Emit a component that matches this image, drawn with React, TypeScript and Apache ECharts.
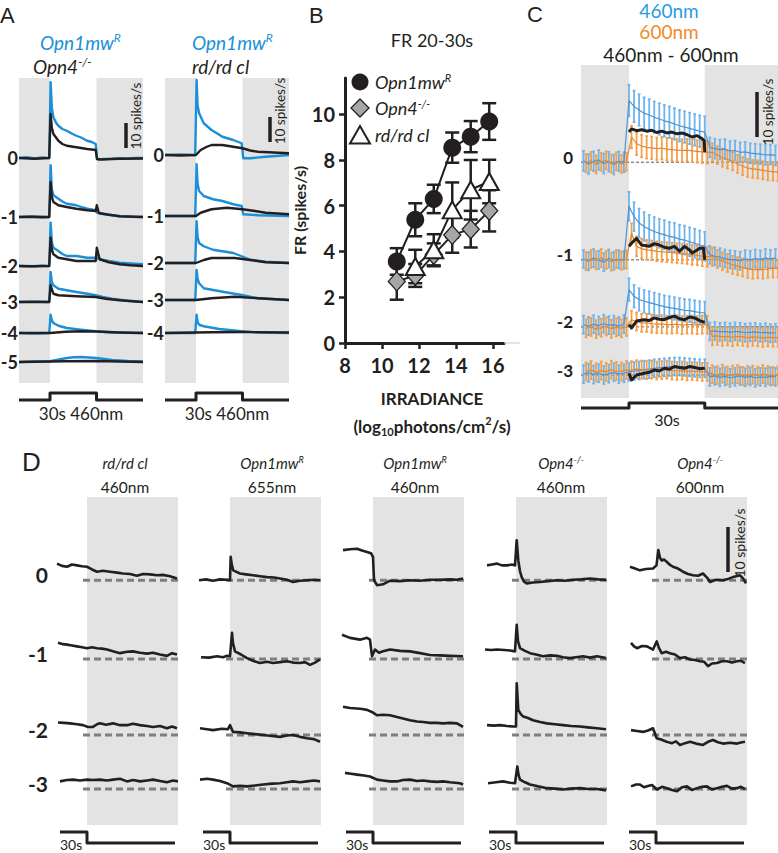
import React, { useEffect, useRef } from "react";
import * as echarts from "echarts";

const FONT = "Lato, 'Open Sans', 'DejaVu Sans', sans-serif";
const LETTER_FONT = "'Liberation Sans', Arial, sans-serif";
const BLUE = "#1b8fd8";
const ORANGE = "#f08a2c";
const BLUE_BAR = "#6fb4ec";
const ORANGE_BAR = "#f5a047";
const BLACK = "#231f20";
const GREY_BG = "#e3e3e3";

// ---------------- Panel A (time s, response spikes/s) ----------------
const A_ROWS_LEFT = ["0", "-1", "-2", "-3", "-4", "-5"];
const A_ROWS_MID = ["0", "-1", "-2", "-3", "-4"];
const A_DARK = [[-20, 0], [30, 60]];
const A_STIM = [[-20, 0], [0, 0], [0, 1], [30, 1], [30, 0], [60, 0]];

const A_LEFT_BLUE = [
  [[-20, 0], [-15, 0.3], [-10, -0.2], [-5, 0.2], [-0.5, 0], [0.4, 30.3], [1.2, 20], [2.2, 16.3], [4, 14], [5.4, 12.9], [8, 11.6], [10.8, 10.9], [14, 9.8], [17, 8.9], [20, 8.2], [24, 6.9], [27, 6.4], [29.5, 5.6], [30.3, 0.2], [31, -0.6], [35, -0.4], [40, -0.3], [45, -0.1], [50, -0.3], [55, 0], [60, 0]],
  [[-20, 0], [-12, 0.2], [-5, -0.2], [-0.5, 0], [0.4, 20.7], [1.2, 11], [2.2, 8.7], [5.4, 7.3], [8, 6.2], [10.8, 5.3], [14, 5.0], [17, 4.7], [20, 4.0], [24, 3.3], [29.5, 2.7], [30.2, 1.8], [33, 1.3], [38, 0.9], [45, 0.3], [52, 0.1], [60, 0]],
  [[-20, 0], [-12, -0.2], [-5, 0.2], [-0.5, 0], [0.4, 17.3], [1.2, 9.5], [2.2, 7.3], [5.4, 6], [8, 4.8], [10.8, 4], [17, 4], [20, 3.7], [24, 3.3], [29.5, 3.3], [32, 2.7], [38, 2.0], [45, 1.3], [52, 1.0], [60, 0.7]],
  [[-20, 0], [-10, 0.2], [-0.5, 0], [0.4, 12], [1.2, 8], [2.2, 6.7], [5.4, 5.3], [10.8, 4.7], [17, 4], [24, 3.3], [29.5, 2.7], [34, 2.0], [40, 1.3], [50, 0.5], [60, 0]],
  [[-20, 0], [-10, -0.2], [-0.5, 0], [0.4, 7.3], [1.2, 5], [2.2, 4], [5.4, 2.9], [10.8, 2], [20, 1.3], [29.5, 0.7], [40, 0.2], [60, 0]],
  [[-20, 0], [-10, 0.2], [0, 0.3], [5, 0.9], [10, 1.5], [15, 1.9], [20, 2.0], [25, 1.8], [30, 1.6], [35, 1.2], [40, 0.8], [50, 0.4], [60, 0.2]],
];
const A_LEFT_BLACK = [
  [[-20, 0], [-10, -0.3], [-0.5, 0], [0.4, 17.6], [1.2, 12], [2.2, 9.6], [5.4, 6.9], [8, 5.6], [10.8, 4.9], [17, 4.3], [24, 3.6], [29.5, 3.2], [30.3, -0.4], [33, -0.6], [40, -0.4], [45, -0.3], [60, -0.2]],
  [[-20, 0], [-10, 0.1], [-0.5, 0], [0.4, 14], [1.2, 8], [2.2, 6], [5.4, 4.7], [10.8, 4], [17, 3.3], [24, 2.7], [29.5, 2.4], [30.2, 4.7], [31.5, 1.6], [38, 0.9], [45, 0.3], [60, 0]],
  [[-20, 0], [-10, -0.1], [-0.5, 0], [0.4, 11.3], [1.2, 6.5], [2.2, 4.7], [5.4, 3.3], [10.8, 2.7], [17, 2], [29.5, 2], [30.2, 7.3], [32, 2.7], [38, 1.5], [45, 0.7], [52, 0.3], [60, 0]],
  [[-20, 0], [-0.5, 0], [0.4, 6.7], [2.2, 3.3], [5.4, 2.7], [17, 2.3], [29.5, 2], [36, 1.3], [45, 0.7], [60, 0]],
  [[-20, 0], [0, 0], [10, 0.5], [20, 0.7], [30, 0.6], [45, 0.2], [60, 0]],
  [[-20, 0], [10, 0.3], [30, 0.4], [45, 0.2], [60, 0]],
];
const A_MID_BLUE = [
  [[-20, 0], [-10, 0.2], [-0.5, 0], [0.4, 30], [1, 20], [2, 16.7], [5, 12.7], [10, 10], [14, 8.5], [17, 7.3], [24, 6], [29.5, 4.7], [30.5, -1.3], [35, -1.3], [45, -0.7], [60, 0]],
  [[-20, 0], [-0.5, 0], [0.4, 20.7], [1, 13], [2, 10], [5, 8], [11, 6.7], [17, 6], [24, 4.7], [29.5, 4], [30.5, 0.7], [40, 0.3], [60, 0]],
  [[-20, 0], [-0.5, 0], [0.4, 16.7], [1, 10.5], [2, 8], [5, 6.7], [11, 5.3], [17, 4.7], [24, 4], [29.5, 2.7], [35, 1.3], [45, 0.5], [60, 0]],
  [[-20, 0], [-0.5, 0], [0.4, 12], [1, 8.5], [2, 6.7], [5, 4.7], [11, 4], [20, 3], [29.5, 2], [40, 0.7], [60, 0]],
  [[-20, 0], [-0.5, 0], [0.4, 7.3], [1, 4.5], [2, 3.3], [5, 2.7], [15, 1.6], [29.5, 0.7], [40, 0.2], [60, 0]],
];
const A_MID_BLACK = [
  [[-20, 0], [-10, -0.2], [0, 0], [3, 2], [7, 3.3], [10, 4], [17, 4], [24, 3.3], [30, 2.7], [35, 1.8], [40, 1.3], [50, 1.0], [60, 0.7]],
  [[-20, 0], [0, 0], [3, 1.3], [10, 2.7], [20, 3.3], [30, 2.7], [38, 2.0], [45, 1.3], [60, 0.7]],
  [[-20, 0], [0, 0], [5, 1.2], [10, 2], [25, 2], [35, 1.2], [45, 0.3], [60, 0]],
  [[-20, 0], [0, 0], [10, 0.7], [25, 1.3], [40, 0.7], [60, 0]],
  [[-20, 0], [10, 0.3], [30, 0.4], [60, 0.2]],
];

// ---------------- Panel B ----------------
const B_X = [10.8, 11.8, 12.8, 13.8, 14.8, 15.8];
const B_OPN1 = [3.56, 5.38, 6.29, 8.53, 9.01, 9.67];
const B_OPN1_ERR = [0.58, 0.72, 0.62, 0.66, 0.68, 0.8];
const B_OPN4 = [2.69, 2.95, 3.85, 4.72, 4.97, 5.77];
const B_OPN4_ERR = [0.8, 0.5, 0.5, 0.78, 0.8, 0.9];
const B_RD_X = [11.8, 12.8, 13.8, 14.8, 15.8];
const B_RD = [3.34, 4.07, 5.81, 6.69, 7.05];
const B_RD_ERR = [0.73, 0.68, 1.2, 1.3, 0.95];
const B_XTICKS = [8, 16.6];
const B_YTICKS = [0, 11.57];

// ---------------- Panel C ----------------
const C_ROWS = ["0", "-1", "-2", "-3"];
const C_DARK = [[-19, 0], [30, 59]];
const C_STIM = [[-19, 0], [0, 0], [0, 1], [30, 1], [30, 0], [59, 0]];
const C_T = [-18, -16, -14, -12, -10, -8, -6, -4, -2, 0, 2, 4, 6, 8, 10, 12, 14, 16, 18, 20, 22, 24, 26, 28, 30, 32, 34, 36, 38, 40, 42, 44, 46, 48, 50, 52, 54, 56, 58];
const C_BLUE = [
  [0.3, -0.4, 0.2, 0.5, -0.3, 0.1, -0.5, 0.2, 0.0, 13.7, 12.4, 11.6, 10.9, 10.5, 10.0, 9.6, 9.2, 8.9, 8.5, 8.1, 7.8, 7.5, 7.2, 6.9, 6.7, 3.3, 3.0, 2.8, 2.9, 2.5, 2.6, 2.2, 2.3, 2.0, 1.9, 1.8, 1.6, 1.7, 1.5],
  [0.2, -0.3, 0.4, 0.0, -0.5, 0.3, -0.2, 0.1, 0.0, 11.9, 9.6, 8.2, 7.4, 6.8, 6.3, 5.9, 5.6, 5.2, 5.0, 4.6, 4.4, 4.0, 3.7, 3.3, 3.0, 1.1, 0.8, 0.6, 0.3, 0.1, 0.0, -0.2, 0.2, 0.0, 0.3, 0.1, 0.4, 0.2, 0.4],
  [0.5, 0.2, 0.6, 0.3, 0.7, 0.4, 0.5, 0.2, 0.6, 8.3, 6.8, 6.1, 5.7, 5.4, 5.1, 4.8, 4.5, 4.3, 4.1, 3.9, 3.7, 3.6, 3.4, 3.2, 3.1, -1.0, -0.9, -1.1, -1.0, -1.2, -1.0, -1.1, -1.3, -1.2, -1.1, -1.3, -1.2, -1.4, -1.3],
  [0.2, 0.5, 0.1, 0.4, 0.0, 0.3, 0.6, 0.2, 0.4, 0.7, 0.9, 1.0, 1.2, 1.3, 1.5, 1.6, 1.7, 1.8, 1.9, 1.9, 1.8, 1.7, 1.6, 1.5, 1.5, -0.4, -0.2, -0.5, -0.3, -0.6, -0.4, -0.2, -0.5, -0.3, -0.6, -0.4, -0.5, -0.3, -0.4],
];
const C_ORANGE = [
  [-0.2, 0.3, -0.5, 0.1, 0.4, -0.3, 0.2, -0.4, 0.1, 5.6, 4.1, 3.6, 3.3, 3.2, 3.0, 3.1, 2.9, 2.8, 2.7, 2.6, 2.7, 2.5, 2.4, 2.3, 2.2, 2.2, 1.6, 1.0, 0.6, 0.2, -0.4, -0.9, -1.3, -1.5, -1.6, -1.8, -2.0, -2.1, -2.2],
  [-0.3, 0.2, -0.1, 0.4, 0.0, -0.4, 0.2, -0.2, 0.1, 5.9, 3.0, 2.5, 2.2, 2.1, 1.9, 1.8, 1.7, 1.6, 1.5, 1.4, 1.3, 1.1, 1.0, 0.8, 0.7, 0.7, 0.2, -0.3, -0.7, -1.1, -1.4, -1.7, -2.0, -2.2, -2.1, -2.2, -2.0, -1.9, -1.9],
  [-0.3, 0.0, -0.5, -0.2, 0.1, -0.4, -0.1, -0.3, 0.0, 1.6, 1.2, 0.9, 0.9, 0.7, 0.6, 0.6, 0.5, 0.5, 0.6, 0.4, 0.5, 0.5, 0.4, 0.5, 0.5, -2.1, -2.0, -2.2, -2.1, -2.3, -2.1, -2.2, -2.4, -2.2, -2.3, -2.5, -2.3, -2.4, -2.4],
  [0.8, 1.1, 0.6, 1.0, 0.7, 1.2, 0.9, 0.8, 1.1, 1.1, 1.3, 1.2, 1.1, 1.2, 1.0, 1.1, 1.2, 1.0, 0.9, 1.0, 0.8, 0.9, 0.8, 0.7, 0.7, 0.2, 0.0, 0.3, -0.1, 0.1, 0.2, -0.2, 0.0, 0.1, -0.1, 0.2, 0.0, -0.2, 0.0],
];
// SEM per phase: [before, during, after light]
const C_BLUE_ERR = [[2.2, 3.5, 2.2], [2.0, 3.2, 2.0], [2.0, 2.5, 2.0], [2.0, 2.0, 2.0]];
const C_ORANGE_ERR = [[2.0, 2.5, 2.0], [2.0, 2.2, 2.0], [2.0, 2.0, 2.0], [2.0, 2.0, 2.0]];
const C_DIFF = [
  [[0, 6.7], [1, 7.4], [3, 7.0], [5, 7.2], [7, 6.9], [9, 7.1], [11, 6.6], [13, 6.9], [15, 6.5], [17, 6.7], [19, 6.3], [21, 6.5], [23, 6.1], [25, 5.6], [27, 5.9], [29, 5.2], [29.8, 4.8], [30, 2.2]],
  [[0, 3.0], [1, 3.7], [3, 4.8], [4, 4.0], [5, 3.3], [8, 3.0], [10, 3.6], [12, 3.3], [14, 2.8], [16, 2.6], [18, 3.0], [20, 1.9], [22, 3.0], [24, 2.2], [25, 1.5], [27, 2.2], [28, 2.6], [29.5, 2.6], [30, 0]],
  [[0, 0.5], [1, -0.2], [3, 1.3], [6, 1.6], [8, 1.4], [10, 2.0], [12, 1.7], [14, 1.6], [16, 2.1], [18, 2.4], [20, 1.8], [22, 1.6], [24, 2.2], [26, 2.0], [28, 1.4], [30, 1.0]],
  [[0, 0.4], [1, -1.1], [3, 0.0], [6, 0.4], [8, 0.6], [10, 1.1], [12, 0.9], [14, 1.5], [16, 1.3], [18, 1.9], [20, 1.7], [22, 1.5], [24, 1.9], [26, 1.7], [28, 1.4], [30, 1.5]],
];

// ---------------- Panel D ----------------
const D_ROWS = ["0", "-1", "-2", "-3"];
const D_TITLES = [["rd/rd cl", ""], ["Opn1mw", "R"], ["Opn1mw", "R"], ["Opn4", "-/-"], ["Opn4", "-/-"]];
const D_WAVE = ["460nm", "655nm", "460nm", "460nm", "600nm"];
const D_DARK = [[0, 91]];
const D_STIM = [[-27, 1], [0, 1], [0, 0], [88, 0]];
const D_RDCL_460 = [
  [[-30, 3.7], [-25, 3.2], [-20, 3.0], [-15, 3.5], [-10, 3.3], [-5, 3.1], [0, 3.0], [5, 2.4], [10, 1.9], [16, 2.1], [23, 1.9], [30, 1.7], [36, 1.5], [43, 1.4], [50, 1.0], [56, 1.4], [63, 1.3], [70, 1.1], [76, 1.2], [83, 0.9], [90, 0.4]],
  [[-29, 3.6], [-24, 3.3], [-20, 3.2], [-15, 3.0], [-10, 2.8], [-5, 2.6], [0, 2.4], [5, 2.6], [10, 2.4], [15, 2.3], [20, 2.1], [26, 1.7], [33, 1.3], [40, 1.6], [46, 1.7], [53, 1.4], [60, 1.2], [66, 1.4], [73, 1.0], [80, 0.7], [85, 1.3], [90, 1.0]],
  [[-29, 2.8], [-23, 2.7], [-17, 2.6], [-10, 2.4], [-4, 2.2], [1, 1.8], [6, 1.8], [10, 2.4], [13, 2.6], [19, 2.3], [26, 2.6], [33, 2.2], [40, 2.2], [46, 2.5], [53, 2.2], [60, 2.0], [66, 1.8], [73, 2.0], [80, 1.5], [85, 1.9], [90, 1.5]],
  [[-27, 1.7], [-20, 2.0], [-14, 2.1], [-7, 1.9], [0, 2.1], [6, 2.0], [13, 2.1], [20, 1.9], [26, 2.1], [33, 2.3], [40, 1.7], [46, 2.0], [53, 1.7], [60, 1.9], [66, 2.1], [73, 1.8], [80, 1.5], [86, 1.9], [91, 1.7]],
];
const D_OPN1_655 = [
  [[-31, 0], [-24, 0.2], [-17, -0.1], [-10, 0.2], [-3, 0.1], [0, 0], [0.7, 5.2], [1.8, 3.4], [3.3, 2.2], [10, 1.5], [16, 1.3], [23, 1.1], [30, 0.9], [37, 0.7], [44, 0.6], [50, 0.4], [57, 0.1], [63, -0.4], [70, -0.1], [77, 0], [84, 0.1], [90, 0]],
  [[-29, 0.4], [-21, 0.3], [-13, 0.6], [-7, 0.4], [-3, 0.7], [0, 0.6], [2, 5.8], [3, 3.5], [5, 1.7], [11, 1.0], [17, 0.2], [23, -0.4], [30, -0.9], [37, -0.6], [43, -0.9], [50, -0.7], [57, -0.5], [63, -0.8], [70, -0.9], [75, -0.7], [80, -1.3], [85, -0.8], [90, -0.1]],
  [[-30, 1.5], [-23, 1.3], [-17, 1.1], [-8, 1.4], [-2, 1.3], [0, 2.2], [3, 0.7], [10, 0.6], [17, 0.4], [25, 0.2], [33, 0], [42, -0.2], [50, -0.4], [57, -0.1], [63, 0], [70, -0.4], [77, -0.7], [84, -0.9], [90, -1.5]],
  [[-30, 2.1], [-23, 2.3], [-17, 2.1], [-10, 1.8], [-3, 1.3], [3, 0.6], [10, 0.7], [17, 0.6], [25, 0.8], [33, 1.0], [42, 1.2], [50, 1.3], [57, 1.5], [63, 1.7], [70, 1.5], [77, 1.7], [84, 1.9], [90, 1.7]],
];
const D_OPN1_460 = [
  [[-30, 6.7], [-23, 6.9], [-16, 7.0], [-11, 6.6], [-6, 6.3], [-2, 6.0], [0, 5.2], [1, 0], [4, -1.1], [10, -0.9], [17, -0.1], [27, -0.2], [37, 0], [47, -0.1], [57, 0.1], [67, 0.1], [77, 0.2], [84, 0.1], [90, 0.4]],
  [[-31, 5.4], [-23, 4.7], [-13, 4.3], [-6, 4.7], [-3, 4.3], [-1, 0.6], [2, 2.1], [6, 1.4], [10, 1.7], [17, 2.1], [27, 1.8], [37, 1.7], [47, 1.3], [57, 0.9], [67, 0.8], [77, 0.7], [90, 0.6]],
  [[-30, 6.3], [-23, 6.0], [-16, 5.9], [-11, 5.8], [-6, 5.6], [0, 5.0], [4, 4.4], [10, 4.5], [17, 4.4], [24, 4.0], [30, 3.7], [37, 3.3], [44, 3.0], [50, 2.9], [57, 2.7], [64, 2.7], [70, 2.6], [77, 2.7], [84, 2.6], [90, 1.8]],
  [[-28, 3.6], [-22, 3.4], [-16, 3.2], [-9, 3.0], [-3, 2.8], [4, 2.1], [10, 1.9], [17, 1.7], [24, 1.7], [30, 2.0], [37, 2.1], [44, 1.8], [50, 1.9], [57, 1.7], [64, 1.6], [70, 1.7], [77, 1.5], [87, 1.3], [90, 1.0]],
];
const D_OPN4_460 = [
  [[-29, 3.3], [-24, 3.5], [-19, 3.7], [-14, 3.3], [-9, 3.3], [-4, 3.5], [-1, 3.3], [0.7, 8.9], [2.3, 4.4], [4, 2.0], [5.7, 0.7], [8, -0.3], [10.7, -0.7], [17, -0.5], [24, -0.4], [32, -0.2], [41, 0], [49, -0.1], [57, 0.1], [65, 0.2], [74, 0.4], [82, 0.2], [90, 0.1]],
  [[-31, 2.1], [-25, 2.0], [-19, 2.1], [-12, 2.0], [-6, 1.9], [-1, 1.7], [0.7, 7.6], [2, 4.0], [4, 2.4], [9, 1.8], [14, 1.3], [20, 1.0], [27, 0.6], [34, 0.8], [41, 0.7], [47, 0.4], [54, 0.2], [60, 0.4], [67, 0.6], [74, 0.3], [81, 0.6], [90, 0.2]],
  [[-29, 2.2], [-22, 2.1], [-16, 2.2], [-9, 2.0], [-3, 1.9], [0, 1.9], [0.7, 11.5], [2.3, 5.6], [5, 4.6], [7.3, 4.1], [12, 3.8], [17, 3.3], [24, 2.9], [31, 2.6], [39, 2.4], [47, 2.2], [55, 2.0], [64, 1.9], [72, 1.7], [81, 1.5], [90, 1.3]],
  [[-28, 1.3], [-20, 1.5], [-13, 1.7], [-6, 1.4], [-1, 1.3], [1.3, 5.0], [2.5, 3.2], [4, 2.1], [9, 1.5], [14, 1.0], [22, 0.6], [31, 0.2], [39, 0.1], [47, -0.1], [55, 0.1], [64, 0.2], [72, 0], [81, 0], [90, -0.3]],
];
const D_OPN4_600 = [
  [[-26, 3.0], [-21, 2.6], [-16, 2.2], [-10, 2.5], [-3, 2.6], [0.5, 3.3], [2.3, 6.7], [4, 5.0], [5.7, 4.4], [8, 4.6], [10.7, 4.1], [14, 3.4], [17, 3.0], [22, 2.6], [27, 1.9], [32, 1.4], [37, 1.1], [42, 1.0], [47, 1.5], [51, 0.6], [54, -0.4], [60, 0.1], [67, 0], [72, 0.3], [77, 0.7], [84, 1.1], [87, 0.4], [90, -0.7]],
  [[-25, 3.6], [-22, 2.8], [-19, 2.4], [-14, 2.9], [-9, 2.8], [-3, 2.1], [0.7, 3.9], [3, 2.4], [5.7, 1.3], [10, 1.6], [14, 1.3], [19, 1.0], [24, 0.2], [29, 0.4], [34, -0.1], [39, -0.2], [44, -0.5], [48, -0.6], [52, -1.6], [56, -1.0], [61, -0.9], [66, -0.5], [71, -0.5], [76, -0.8], [81, -0.5], [85, -0.4], [89, -0.9]],
  [[-25, 1.1], [-19, 0.9], [-13, 0.7], [-8, 1.0], [-3, 1.5], [0.7, -0.7], [5, -1.0], [10.7, -1.5], [16, -1.8], [20, -1.4], [24, -2.2], [29, -1.8], [34, -1.5], [40, -1.9], [47, -2.2], [52, -1.5], [57, -1.1], [62, -1.6], [67, -1.9], [74, -1.7], [81, -1.9], [86, -1.6], [89, -1.5]],
  [[-25, 0.6], [-20, 1.0], [-16, 1.0], [-12, 0.4], [-9, 0.6], [-4, 0.9], [1, -0.1], [6, 0.5], [11, 0.2], [16, -0.2], [21, -0.5], [26, 0.4], [31, 0.6], [36, -0.2], [41, 0.2], [46, 0.5], [51, 0.6], [56, -0.1], [61, 0.2], [66, 0.5], [71, 0.7], [76, 0.1], [81, 0.2], [85, 0.5], [89, 0]],
];
const D_TRACES = [D_RDCL_460, D_OPN1_655, D_OPN1_460, D_OPN4_460, D_OPN4_600];

// ---------------- layout (pixels / axis ranges) ----------------
const A_LAYOUT = { left: [19, 165], top: 78, width: 124, height: 325, xMin: -20, xMax: 60, yMin: -8, yMax: 122 };
const A_BASE_LEFT = [90, 66.4, 46.8, 32.4, 20, 8.4];
const A_BASE_MID = [91.2, 66.8, 48, 33.2, 20];
const A_STIM_Y = [-6.8, -4];
const C_LAYOUT = { left: 581, top: 65, width: 197, height: 346.5, xMin: -19, xMax: 59, yMin: -3, yMax: 74 };
const C_BASE = [52.4, 30.7, 15.8, 5.1];
const C_STIM_Y = [-2.2, -1.1];
const D_LAYOUT = { left: [57, 200, 343, 486, 626], top: 497, width: 121, height: 348.3, xMin: -30, xMax: 91, yMin: -4.5, yMax: 72.9 };
const D_BASE = [54.4, 36.9, 20, 8];
const D_STIM_Y = [-4.0, -1.56];

function line(gi: number, data: number[][], base: number, color: string, width: number, z: number, extra: any = {}) {
  return {
    type: "line", xAxisIndex: gi, yAxisIndex: gi, silent: true, z,
    data: data.map(([t, v]) => [t, v + base]),
    showSymbol: false, symbol: "none",
    lineStyle: { color, width, join: "round", ...(extra.lineStyle || {}) },
    itemStyle: { color },
    animation: false,
  };
}

function bands(gi: number, ranges: number[][], y0: number, y1: number) {
  return {
    type: "custom", xAxisIndex: gi, yAxisIndex: gi, silent: true, z: 0,
    data: ranges.map(([a, b]) => [a, b, y0, y1]),
    encode: { x: [0, 1], y: [2, 3] },
    renderItem: (_p: any, api: any) => {
      const p0 = api.coord([api.value(0), api.value(3)]);
      const p1 = api.coord([api.value(1), api.value(2)]);
      return { type: "rect", shape: { x: p0[0], y: p0[1], width: p1[0] - p0[0], height: p1[1] - p0[1] }, style: { fill: GREY_BG } };
    },
  };
}

function errBars(gi: number, data: number[][], color: string, width: number, cap: number, z: number) {
  return {
    type: "custom", xAxisIndex: gi, yAxisIndex: gi, silent: true, z,
    data, encode: { x: 0, y: [1, 2] },
    renderItem: (_p: any, api: any) => {
      const a = api.coord([api.value(0), api.value(1)]);
      const b = api.coord([api.value(0), api.value(2)]);
      const st = { stroke: color, lineWidth: width };
      return {
        type: "group",
        children: [
          { type: "line", shape: { x1: a[0], y1: a[1], x2: b[0], y2: b[1] }, style: st },
          { type: "line", shape: { x1: a[0] - cap, y1: a[1], x2: a[0] + cap, y2: a[1] }, style: st },
          { type: "line", shape: { x1: b[0] - cap, y1: b[1], x2: b[0] + cap, y2: b[1] }, style: st },
        ],
      };
    },
  };
}

// row labels, drawn as text glyphs anchored at each row's baseline
function rowLabels(gi: number, names: string[], bases: number[], x: number, dist: number, dy: number, size: number) {
  return {
    type: "custom", xAxisIndex: gi, yAxisIndex: gi, silent: true, z: 6,
    data: names.map((_n, k) => [x, bases[k], k]),
    encode: { x: 0, y: 1 },
    renderItem: (_p: any, api: any) => {
      const p = api.coord([api.value(0), api.value(1)]);
      const k = api.value(2);
      return {
        type: "text", x: p[0] - dist, y: p[1] + dy,
        style: { text: names[k], fill: BLACK, fontFamily: FONT, fontWeight: "bold", fontSize: size, textAlign: "right", textVerticalAlign: "middle", align: "right", verticalAlign: "middle" },
      };
    },
  };
}

function stim(gi: number, data: number[][], ys: number[], width: number) {
  return line(gi, data.map(([t, on]) => [t, ys[on]]), 0, BLACK, width, 2);
}

function richSup(main: string, sup: string, size: number, color: string, italic: boolean, weight = "normal") {
  const fs = italic ? "italic" : "normal";
  return {
    text: sup ? `{a|${main}}{s|${sup}}` : `{a|${main}}`,
    rich: {
      a: { fontSize: size, fontFamily: FONT, fontStyle: fs, fontWeight: weight, fill: color, lineHeight: Math.round(size * 1.1) },
      s: { fontSize: Math.round(size * 0.62), fontFamily: FONT, fontStyle: fs, fontWeight: weight, fill: color, lineHeight: Math.round(size * 0.6), verticalAlign: "top" },
    },
  };
}

function txt(x: number, y: number, text: string, size: number, opts: any = {}) {
  return {
    type: "text", x, y, silent: true, rotation: opts.rotation || 0, z: 10,
    style: {
      text, fill: opts.color || BLACK, fontFamily: opts.font || FONT, fontSize: size,
      fontStyle: opts.italic ? "italic" : "normal", fontWeight: opts.bold ? "bold" : "normal",
      textAlign: opts.align || "left", textVerticalAlign: "middle", align: opts.align || "left", verticalAlign: "middle",
    },
  };
}
function rtxt(x: number, y: number, r: any, align = "left") {
  return { type: "text", x, y, silent: true, z: 10, style: { ...r, textAlign: align, textVerticalAlign: "middle", align, verticalAlign: "middle" } };
}
function vbar(x: number, y1: number, y2: number) {
  return { type: "line", silent: true, z: 10, shape: { x1: x, y1, x2: x, y2 }, style: { stroke: BLACK, lineWidth: 3.5 } };
}

function buildOption() {
  const grid: any[] = [];
  const xAxis: any[] = [];
  const yAxis: any[] = [];
  const series: any[] = [];
  const hidden = { show: false };
  const addGrid = (left: number, top: number, width: number, height: number, xr: number[], yr: number[]) => {
    const gi = grid.length;
    grid.push({ left, top, width, height, containLabel: false });
    xAxis.push({ gridIndex: gi, type: "value", min: xr[0], max: xr[1], ...hidden, splitLine: hidden });
    yAxis.push({ gridIndex: gi, type: "value", min: yr[0], max: yr[1], ...hidden, splitLine: hidden });
    return gi;
  };

  // Panel A
  const aSets = [
    { blue: A_LEFT_BLUE, black: A_LEFT_BLACK, base: A_BASE_LEFT, rows: A_ROWS_LEFT },
    { blue: A_MID_BLUE, black: A_MID_BLACK, base: A_BASE_MID, rows: A_ROWS_MID },
  ];
  aSets.forEach((s, k) => {
    const gi = addGrid(A_LAYOUT.left[k], A_LAYOUT.top, A_LAYOUT.width, A_LAYOUT.height, [A_LAYOUT.xMin, A_LAYOUT.xMax], [A_LAYOUT.yMin, A_LAYOUT.yMax]);
    series.push(bands(gi, A_DARK, 0, A_LAYOUT.yMax));
    s.blue.forEach((d, r) => series.push(line(gi, d, s.base[r], BLUE, 2.4, 3)));
    s.black.forEach((d, r) => series.push(line(gi, d, s.base[r], BLACK, 2.4, 4)));
    series.push(stim(gi, A_STIM, A_STIM_Y, 3));
    series.push(rowLabels(gi, s.rows, s.base, A_LAYOUT.xMin, 1, 0, 18));
  });

  // Panel B
  const gb = grid.length;
  grid.push({ left: 345, top: 78, width: 159, height: 265, containLabel: false });
  const axisLine = { show: true, lineStyle: { color: BLACK, width: 3 } };
  const tickStyle = { show: true, inside: false, length: 6, lineStyle: { color: BLACK, width: 2.5 } };
  const labelStyle = { fontFamily: FONT, fontWeight: "bold", fontSize: 20, color: BLACK };
  xAxis.push({
    gridIndex: gb, type: "value", min: B_XTICKS[0], max: B_XTICKS[1], interval: 2,
    axisLine, axisTick: tickStyle, splitLine: hidden,
    axisLabel: { ...labelStyle, margin: 12, showMaxLabel: false },
  });
  yAxis.push({
    gridIndex: gb, type: "value", min: B_YTICKS[0], max: B_YTICKS[1], interval: 2,
    axisLine, axisTick: tickStyle, splitLine: hidden,
    axisLabel: { ...labelStyle, margin: 10, showMaxLabel: false },
    name: "FR (spikes/s)", nameLocation: "middle", nameGap: 33,
    nameTextStyle: { fontFamily: FONT, fontWeight: "bold", fontSize: 16, color: BLACK },
  });
  series.push(errBars(gb, B_X.map((x, i) => [x, B_OPN4[i] - B_OPN4_ERR[i], B_OPN4[i] + B_OPN4_ERR[i]]), BLACK, 2.5, 7, 2));
  series.push(errBars(gb, B_RD_X.map((x, i) => [x, B_RD[i] - B_RD_ERR[i], B_RD[i] + B_RD_ERR[i]]), BLACK, 2.5, 7, 2));
  series.push(errBars(gb, B_X.map((x, i) => [x, B_OPN1[i] - B_OPN1_ERR[i], B_OPN1[i] + B_OPN1_ERR[i]]), BLACK, 2.5, 7, 2));
  series.push({
    type: "line", xAxisIndex: gb, yAxisIndex: gb, z: 4, silent: true, data: B_X.map((x, i) => [x, B_OPN4[i]]),
    symbol: "diamond", symbolSize: [17, 19], showSymbol: true,
    lineStyle: { color: BLACK, width: 2 }, itemStyle: { color: "#a6a6a6", borderColor: BLACK, borderWidth: 1.3 },
  });
  series.push({
    type: "line", xAxisIndex: gb, yAxisIndex: gb, z: 5, silent: true, data: B_RD_X.map((x, i) => [x, B_RD[i]]),
    symbol: "triangle", symbolSize: [19, 17], showSymbol: true,
    lineStyle: { color: BLACK, width: 2 }, itemStyle: { color: "#ffffff", borderColor: BLACK, borderWidth: 2 },
  });
  series.push({
    type: "line", xAxisIndex: gb, yAxisIndex: gb, z: 6, silent: true, data: B_X.map((x, i) => [x, B_OPN1[i]]),
    symbol: "circle", symbolSize: 18, showSymbol: true,
    lineStyle: { color: BLACK, width: 2 }, itemStyle: { color: BLACK, borderColor: BLACK, borderWidth: 0 },
  });

  // Panel C
  const gc = addGrid(C_LAYOUT.left, C_LAYOUT.top, C_LAYOUT.width, C_LAYOUT.height, [C_LAYOUT.xMin, C_LAYOUT.xMax], [C_LAYOUT.yMin, C_LAYOUT.yMax]);
  series.push(bands(gc, C_DARK, 0, C_LAYOUT.yMax));
  const phase = (t: number) => (t < 0 ? 0 : t <= 30 ? 1 : 2);
  C_ROWS.forEach((_r, r) => {
    const base = C_BASE[r];
    series.push(line(gc, [[C_LAYOUT.xMin, 0], [C_LAYOUT.xMax, 0]], base, "#555555", 1, 2, { lineStyle: { type: [3, 2] } }));
    series.push(errBars(gc, C_T.map((t, i) => [t, C_BLUE[r][i] - C_BLUE_ERR[r][phase(t)] + base, C_BLUE[r][i] + C_BLUE_ERR[r][phase(t)] + base]), BLUE_BAR, 1.8, 1.4, 3));
    series.push(line(gc, C_T.map((t, i) => [t, C_BLUE[r][i]]), base, "#4f93cf", 1.2, 3));
    series.push(errBars(gc, C_T.map((t, i) => [t + 1, C_ORANGE[r][i] - C_ORANGE_ERR[r][phase(t)] + base, C_ORANGE[r][i] + C_ORANGE_ERR[r][phase(t)] + base]), ORANGE_BAR, 1.8, 1.4, 3));
    series.push(line(gc, C_T.map((t, i) => [t + 1, C_ORANGE[r][i]]), base, "#e0883a", 1.2, 3));
    series.push(line(gc, C_DIFF[r], base, BLACK, 3, 5));
  });
  series.push(stim(gc, C_STIM, C_STIM_Y, 3));
  series.push(rowLabels(gc, C_ROWS, C_BASE, C_LAYOUT.xMin, 8, -5, 17));

  // Panel D
  D_LAYOUT.left.forEach((left, c) => {
    const gi = addGrid(left, D_LAYOUT.top, D_LAYOUT.width, D_LAYOUT.height, [D_LAYOUT.xMin, D_LAYOUT.xMax], [D_LAYOUT.yMin, D_LAYOUT.yMax]);
    series.push(bands(gi, D_DARK, 0, D_LAYOUT.yMax));
    D_TRACES[c].forEach((d, r) => {
      series.push(line(gi, [[-4, 0], [91, 0]], D_BASE[r], "#7f7f7f", 3, 2, { lineStyle: { type: [7, 4] } }));
      series.push(line(gi, d, D_BASE[r], BLACK, 2.6, 4));
    });
    series.push(stim(gi, D_STIM, D_STIM_Y, 3));
    if (c === 0) series.push(rowLabels(gi, D_ROWS, D_BASE, D_LAYOUT.xMin, 9, -6, 21));
  });

  // Graphic texts / scale bars
  const graphic: any[] = [
    txt(0, 15, "A", 22, { font: LETTER_FONT }),
    txt(309, 15, "B", 22, { font: LETTER_FONT }),
    txt(527, 14, "C", 22, { font: LETTER_FONT }),
    txt(22, 462, "D", 26, { font: LETTER_FONT }),
    rtxt(40, 42, richSup("Opn1mw", "R", 19, BLUE, true)),
    rtxt(33, 66, richSup("Opn4", "-/-", 19, BLACK, true)),
    rtxt(192, 42, richSup("Opn1mw", "R", 19, BLUE, true)),
    rtxt(192, 66, richSup("rd/rd cl", "", 19, BLACK, true)),
    txt(81, 413, "30s 460nm", 17, { align: "center" }),
    txt(227, 413, "30s 460nm", 17, { align: "center" }),
    vbar(126, 123, 148),
    txt(136, 116, "10 spikes/s", 13.5, { align: "center", rotation: Math.PI / 2 }),
    vbar(270, 117, 142),
    txt(280, 111, "10 spikes/s", 13.5, { align: "center", rotation: Math.PI / 2 }),
    // B
    txt(432, 40, "FR 20-30s", 18, { align: "center" }),
    { type: "circle", silent: true, z: 10, shape: { cx: 360, cy: 82, r: 8.5 }, style: { fill: BLACK } },
    { type: "polygon", silent: true, z: 10, shape: { points: [[360, 99], [369, 108], [360, 117], [351, 108]] }, style: { fill: "#a6a6a6", stroke: BLACK, lineWidth: 1.3 } },
    { type: "polygon", silent: true, z: 10, shape: { points: [[350, 143.5], [370, 143.5], [360, 126]] }, style: { fill: "#ffffff", stroke: BLACK, lineWidth: 2 } },
    rtxt(375, 82, richSup("Opn1mw", "R", 18, BLACK, true)),
    rtxt(375, 108, richSup("Opn4", "-/-", 18, BLACK, true)),
    rtxt(375, 135, richSup("rd/rd cl", "", 18, BLACK, true)),
    { type: "line", silent: true, z: 1, shape: { x1: 504, y1: 343, x2: 520, y2: 343 }, style: { stroke: "#c8c8c8", lineWidth: 1 } },
    txt(432, 398, "IRRADIANCE", 17, { align: "center", bold: true }),
    rtxt(432, 426, {
      text: "{b|(log}{sub|10}{b|photons/cm}{sup|2}{b|/s)}",
      rich: {
        b: { fontSize: 17, fontFamily: FONT, fontWeight: "bold", fill: BLACK, lineHeight: 22 },
        sub: { fontSize: 11, fontFamily: FONT, fontWeight: "bold", fill: BLACK, lineHeight: 11, verticalAlign: "bottom" },
        sup: { fontSize: 11, fontFamily: FONT, fontWeight: "bold", fill: BLACK, lineHeight: 11, verticalAlign: "top" },
      },
    }, "center"),
    // C
    txt(669, 10, "460nm", 19, { align: "center", color: "#2a9be0" }),
    txt(669, 31, "600nm", 19, { align: "center", color: ORANGE }),
    txt(671, 54, "460nm - 600nm", 19, { align: "center" }),
    txt(667, 419, "30s", 16, { align: "center" }),
    vbar(757, 92, 137),
    txt(768, 112, "10 spikes/s", 13.5, { align: "center", rotation: Math.PI / 2 }),
    // D
    vbar(728, 527, 572),
    txt(739, 543, "10 spikes/s", 14, { align: "center", rotation: Math.PI / 2 }),
  ];
  const dCenters = [125, 272, 415, 561, 700];
  dCenters.forEach((cx, c) => {
    graphic.push(rtxt(cx, 463, richSup(D_TITLES[c][0], D_TITLES[c][1], 15, BLACK, true), "center"));
    graphic.push(txt(cx, 487, D_WAVE[c], 15.5, { align: "center" }));
    graphic.push(txt(D_LAYOUT.left[c] + 3, 844, "30s", 14));
  });

  return { animation: false, backgroundColor: "#ffffff", grid, xAxis, yAxis, series, graphic };
}

export default function App() {
  const ref = useRef<HTMLDivElement>(null);
  useEffect(() => {
    document.body.style.margin = "0";
    const chart = echarts.init(ref.current!, null, { renderer: "svg" });
    chart.setOption(buildOption() as any);
    return () => chart.dispose();
  }, []);
  return <div ref={ref} style={{ width: 778, height: 853 }} />;
}
